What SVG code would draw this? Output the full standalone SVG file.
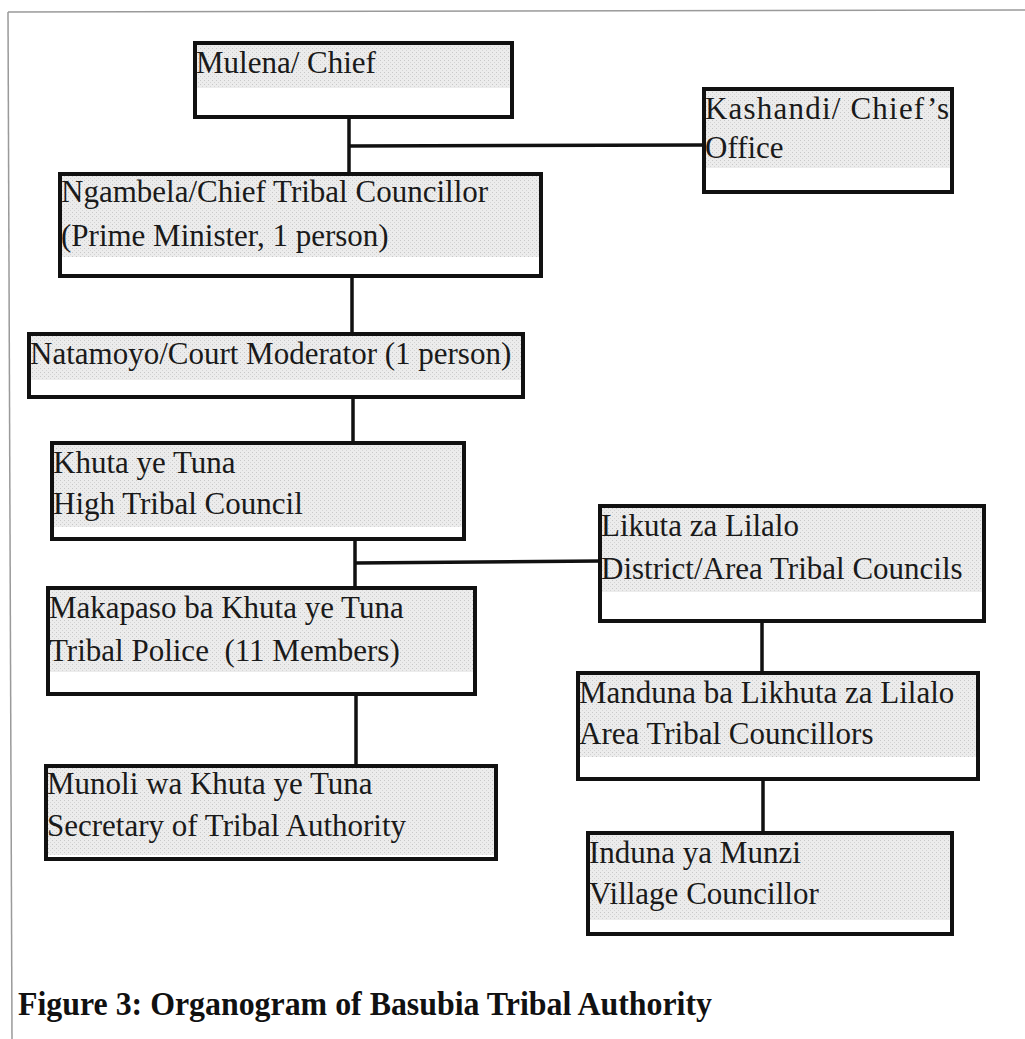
<svg xmlns="http://www.w3.org/2000/svg" width="1025" height="1039" viewBox="0 0 1025 1039">
<defs>
<pattern id="stip" width="4" height="4" patternUnits="userSpaceOnUse">
<rect width="4" height="4" fill="#ececec"/>
<rect x="0" y="0" width="1" height="1" fill="#c8c8c8"/>
<rect x="2" y="2" width="1" height="1" fill="#d4d4d4"/>
</pattern>
</defs>
<style>
.box{fill:#fff;stroke:#111;stroke-width:4}
.shade{fill:url(#stip)}
.lbl{font-family:"Liberation Serif","Times New Roman",serif;font-size:31px;fill:#1a1a1a}
.con{stroke:#111;stroke-width:3.5;fill:none}
.frame{stroke:#9a9a9a;stroke-width:1.5;fill:none}
.cap{font-family:"Liberation Serif","Times New Roman",serif;font-size:33px;font-weight:bold;fill:#111}
</style>
<rect width="1025" height="1039" fill="#fff"/>
<g id="frame">
<line class="frame" x1="8" y1="12" x2="1025" y2="10"/>
<line class="frame" x1="8" y1="12" x2="12" y2="1039"/>
</g>
<g id="connectors">
<line class="con" x1="349" y1="118" x2="349" y2="174"/>
<line class="con" x1="349" y1="146" x2="703" y2="145"/>
<line class="con" x1="352" y1="277" x2="352" y2="333"/>
<line class="con" x1="353" y1="398" x2="353" y2="442"/>
<line class="con" x1="355" y1="540" x2="355" y2="587"/>
<line class="con" x1="355" y1="563" x2="600" y2="561"/>
<line class="con" x1="356" y1="695" x2="356" y2="765"/>
<line class="con" x1="762" y1="622" x2="762" y2="672"/>
<line class="con" x1="763" y1="780" x2="763" y2="832"/>
</g>
<g id="mulena">
<rect class="box" x="195" y="43" width="317" height="74"/>
<rect class="shade" x="197" y="45" width="313" height="43"/>
<text class="lbl" x="196" y="73">Mulena/ Chief</text>
</g>
<g id="kashandi">
<rect class="box" x="704" y="89" width="248" height="103"/>
<rect class="shade" x="706" y="91" width="244" height="77"/>
<text class="lbl" x="705" y="119" textLength="244" lengthAdjust="spacing">Kashandi/  Chief’s</text>
<text class="lbl" x="705" y="158">Office</text>
</g>
<g id="ngambela">
<rect class="box" x="60" y="174" width="481" height="102"/>
<rect class="shade" x="62" y="176" width="477" height="81"/>
<text class="lbl" x="61" y="202">Ngambela/Chief Tribal Councillor</text>
<text class="lbl" x="61" y="246">(Prime Minister, 1 person)</text>
</g>
<g id="natamoyo">
<rect class="box" x="29" y="334" width="494" height="63"/>
<rect class="shade" x="31" y="336" width="490" height="44"/>
<text class="lbl" x="30" y="364">Natamoyo/Court Moderator (1 person)</text>
</g>
<g id="khuta">
<rect class="box" x="52" y="443" width="412" height="96"/>
<rect class="shade" x="54" y="445" width="408" height="82"/>
<text class="lbl" x="53" y="473">Khuta ye Tuna</text>
<text class="lbl" x="53" y="514">High Tribal Council</text>
</g>
<g id="makapaso">
<rect class="box" x="48" y="588" width="427" height="106"/>
<rect class="shade" x="50" y="590" width="423" height="82"/>
<text class="lbl" x="49" y="618">Makapaso ba Khuta ye Tuna</text>
<text class="lbl" x="49" y="661" xml:space="preserve">Tribal Police  (11 Members)</text>
</g>
<g id="munoli">
<rect class="box" x="46" y="766" width="450" height="93"/>
<rect class="shade" x="48" y="768" width="446" height="87"/>
<text class="lbl" x="47" y="794">Munoli wa Khuta ye Tuna</text>
<text class="lbl" x="47" y="836">Secretary of Tribal Authority</text>
</g>
<g id="likuta">
<rect class="box" x="600" y="506" width="384" height="115"/>
<rect class="shade" x="602" y="508" width="380" height="84"/>
<text class="lbl" x="601" y="536">Likuta za Lilalo</text>
<text class="lbl" x="601" y="579">District/Area Tribal Councils</text>
</g>
<g id="manduna">
<rect class="box" x="578" y="673" width="400" height="106"/>
<rect class="shade" x="580" y="675" width="396" height="82"/>
<text class="lbl" x="579" y="703">Manduna ba Likhuta za Lilalo</text>
<text class="lbl" x="579" y="744">Area Tribal Councillors</text>
</g>
<g id="induna">
<rect class="box" x="588" y="833" width="364" height="101"/>
<rect class="shade" x="590" y="835" width="360" height="85"/>
<text class="lbl" x="589" y="863">Induna ya Munzi</text>
<text class="lbl" x="589" y="904">Village Councillor</text>
</g>
<g id="caption">
<text class="cap" x="18" y="1015" textLength="694" lengthAdjust="spacingAndGlyphs">Figure 3: Organogram of Basubia Tribal Authority</text>
</g>
</svg>
